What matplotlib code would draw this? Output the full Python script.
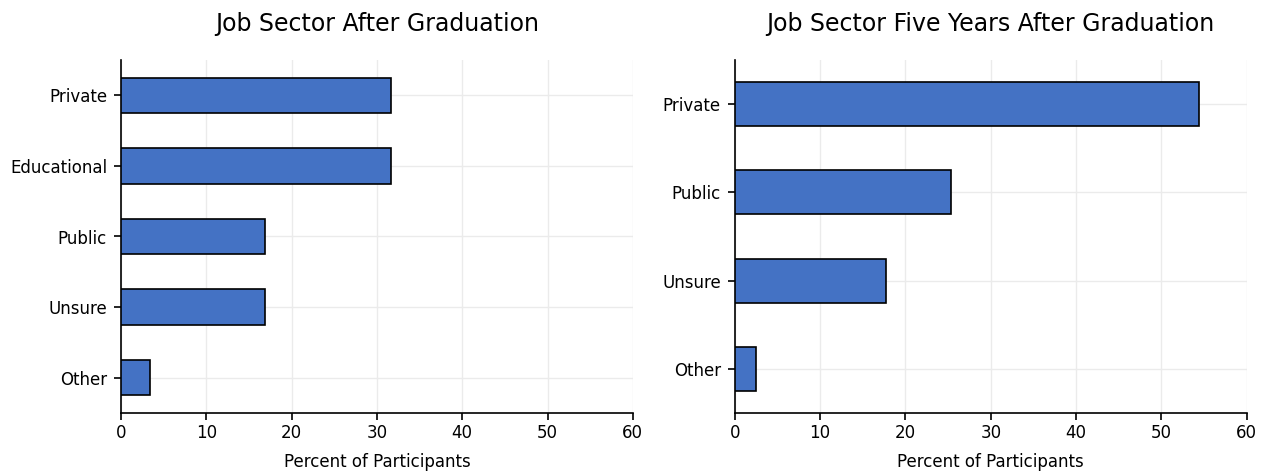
# Job sector of participants, right after graduation and five years on

import matplotlib.pyplot as plt

# sector shares in percent (listed top to bottom)
sectors_grad = ['Private', 'Educational', 'Public', 'Unsure', 'Other']
percent_grad = [31.6, 31.6, 16.9, 16.9, 3.4]

sectors_five = ['Private', 'Public', 'Unsure', 'Other']
percent_five = [54.4, 25.3, 17.7, 2.5]

titles = ['Job Sector After Graduation', 'Job Sector Five Years After Graduation']

bar_colour = '#4472C4'
grid_colour = '#ebebeb'

fig = plt.figure(figsize=(12.67, 4.73), dpi=100)
ax1 = fig.add_axes([0.0955, 0.127, 0.404, 0.746])
ax2 = fig.add_axes([0.580, 0.127, 0.404, 0.746])

for ax, cats, vals, title in zip([ax1, ax2],
                                 [sectors_grad, sectors_five],
                                 [percent_grad, percent_five],
                                 titles):
    # reverse so the first category sits at the top
    pos = list(range(len(cats)))[::-1]
    ax.barh(pos, vals, height=0.5, color=bar_colour, edgecolor='black',
            linewidth=1.2, zorder=3)
    ax.set_yticks(pos)
    ax.set_yticklabels(cats, fontsize=12)
    ax.set_ylim(-0.5, len(cats) - 0.5)
    ax.set_xlim(0, 60)
    ax.set_xticks(range(0, 61, 10))
    ax.tick_params(axis='x', labelsize=12, length=5, width=1.2, pad=3)
    ax.tick_params(axis='y', length=5, width=1.2, pad=5)
    ax.grid(True, color=grid_colour, linewidth=1, zorder=0)
    ax.set_axisbelow(True)
    for side in ['top', 'right']:
        ax.spines[side].set_visible(False)
    for side in ['left', 'bottom']:
        ax.spines[side].set_linewidth(1.2)
    ax.set_xlabel('Percent of Participants', fontsize=12, labelpad=8)
    ax.set_title(title, fontsize=17, pad=21)

plt.savefig('out.png', dpi=100)
